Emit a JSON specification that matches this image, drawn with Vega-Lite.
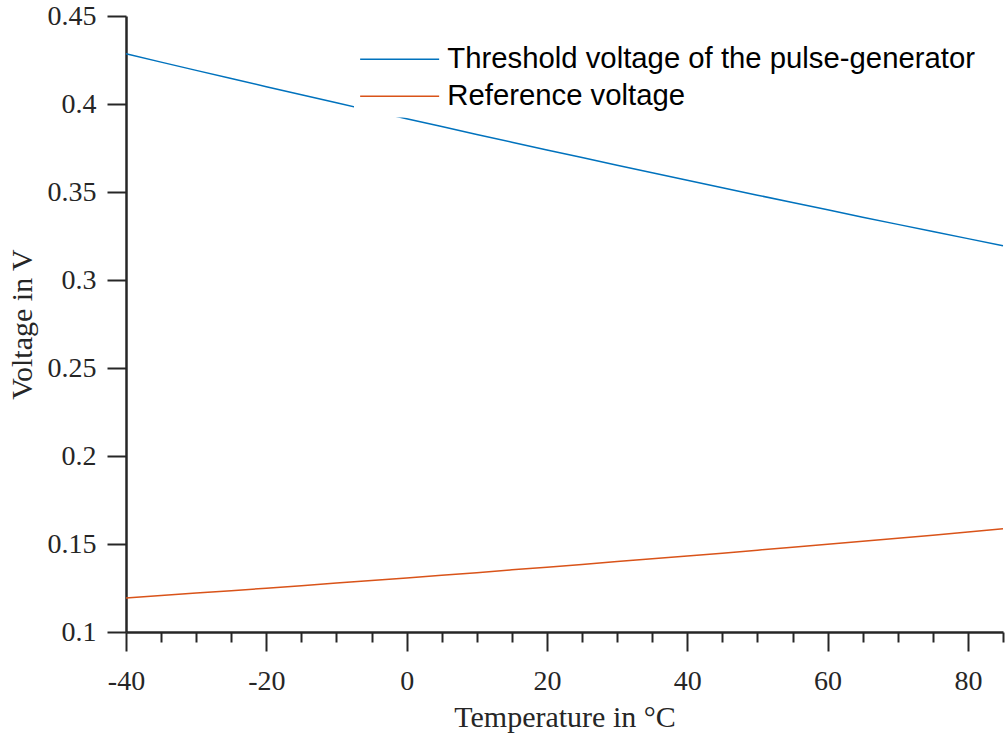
{
  "$schema": "https://vega.github.io/schema/vega-lite/v6.json",
  "width": 877,
  "height": 616,
  "autosize": "none",
  "padding": {"left": 126, "top": 16, "right": 2, "bottom": 101},
  "background": "white",
  "config": {"view": {"stroke": null}},
  "data": {
    "values": [
      {"T": -40, "V": 0.4285, "series": "Threshold voltage of the pulse-generator"},
      {"T": -35, "V": 0.4238, "series": "Threshold voltage of the pulse-generator"},
      {"T": -30, "V": 0.4191, "series": "Threshold voltage of the pulse-generator"},
      {"T": -25, "V": 0.4145, "series": "Threshold voltage of the pulse-generator"},
      {"T": -20, "V": 0.4098, "series": "Threshold voltage of the pulse-generator"},
      {"T": -15, "V": 0.4052, "series": "Threshold voltage of the pulse-generator"},
      {"T": -10, "V": 0.4007, "series": "Threshold voltage of the pulse-generator"},
      {"T": -5, "V": 0.3961, "series": "Threshold voltage of the pulse-generator"},
      {"T": 0, "V": 0.3916, "series": "Threshold voltage of the pulse-generator"},
      {"T": 5, "V": 0.3872, "series": "Threshold voltage of the pulse-generator"},
      {"T": 10, "V": 0.3827, "series": "Threshold voltage of the pulse-generator"},
      {"T": 15, "V": 0.3783, "series": "Threshold voltage of the pulse-generator"},
      {"T": 20, "V": 0.3739, "series": "Threshold voltage of the pulse-generator"},
      {"T": 25, "V": 0.3696, "series": "Threshold voltage of the pulse-generator"},
      {"T": 30, "V": 0.3652, "series": "Threshold voltage of the pulse-generator"},
      {"T": 35, "V": 0.3609, "series": "Threshold voltage of the pulse-generator"},
      {"T": 40, "V": 0.3567, "series": "Threshold voltage of the pulse-generator"},
      {"T": 45, "V": 0.3524, "series": "Threshold voltage of the pulse-generator"},
      {"T": 50, "V": 0.3482, "series": "Threshold voltage of the pulse-generator"},
      {"T": 55, "V": 0.3440, "series": "Threshold voltage of the pulse-generator"},
      {"T": 60, "V": 0.3399, "series": "Threshold voltage of the pulse-generator"},
      {"T": 65, "V": 0.3357, "series": "Threshold voltage of the pulse-generator"},
      {"T": 70, "V": 0.3316, "series": "Threshold voltage of the pulse-generator"},
      {"T": 75, "V": 0.3276, "series": "Threshold voltage of the pulse-generator"},
      {"T": 80, "V": 0.3235, "series": "Threshold voltage of the pulse-generator"},
      {"T": 85, "V": 0.3195, "series": "Threshold voltage of the pulse-generator"},
      {"T": -40, "V": 0.1193, "series": "Reference voltage"},
      {"T": -35, "V": 0.1207, "series": "Reference voltage"},
      {"T": -30, "V": 0.1221, "series": "Reference voltage"},
      {"T": -25, "V": 0.1235, "series": "Reference voltage"},
      {"T": -20, "V": 0.1249, "series": "Reference voltage"},
      {"T": -15, "V": 0.1263, "series": "Reference voltage"},
      {"T": -10, "V": 0.1278, "series": "Reference voltage"},
      {"T": -5, "V": 0.1292, "series": "Reference voltage"},
      {"T": 0, "V": 0.1307, "series": "Reference voltage"},
      {"T": 5, "V": 0.1322, "series": "Reference voltage"},
      {"T": 10, "V": 0.1337, "series": "Reference voltage"},
      {"T": 15, "V": 0.1353, "series": "Reference voltage"},
      {"T": 20, "V": 0.1368, "series": "Reference voltage"},
      {"T": 25, "V": 0.1384, "series": "Reference voltage"},
      {"T": 30, "V": 0.1400, "series": "Reference voltage"},
      {"T": 35, "V": 0.1416, "series": "Reference voltage"},
      {"T": 40, "V": 0.1432, "series": "Reference voltage"},
      {"T": 45, "V": 0.1448, "series": "Reference voltage"},
      {"T": 50, "V": 0.1465, "series": "Reference voltage"},
      {"T": 55, "V": 0.1482, "series": "Reference voltage"},
      {"T": 60, "V": 0.1499, "series": "Reference voltage"},
      {"T": 65, "V": 0.1516, "series": "Reference voltage"},
      {"T": 70, "V": 0.1533, "series": "Reference voltage"},
      {"T": 75, "V": 0.1550, "series": "Reference voltage"},
      {"T": 80, "V": 0.1568, "series": "Reference voltage"},
      {"T": 85, "V": 0.1586, "series": "Reference voltage"}
    ]
  },
  "mark": {"type": "line", "strokeWidth": 1.5},
  "encoding": {
    "x": {
      "field": "T",
      "type": "quantitative",
      "scale": {"domain": [-40, 85], "nice": false, "zero": false},
      "axis": {
        "values": [-40, -35, -30, -25, -20, -15, -10, -5, 0, 5, 10, 15, 20, 25, 30, 35, 40, 45, 50, 55, 60, 65, 70, 75, 80, 85],
        "title": "Temperature in °C",
        "labelExpr": "datum.value % 20 === 0 ? '' + datum.value : ''",
        "tickSize": {"condition": {"test": "datum.value % 20 === 0", "value": 19}, "value": 10},
        "labelFont": "Liberation Serif",
        "labelFontSize": 28,
        "labelColor": "#262626",
        "labelPadding": 16,
        "labelOverlap": false,
        "labelFlush": false,
        "titleFont": "Liberation Serif",
        "titleFontSize": 30,
        "titleFontWeight": "normal",
        "titleColor": "#262626",
        "titlePadding": 7,
        "domainColor": "#262626",
        "domainWidth": 2.5,
        "tickColor": "#262626",
        "tickWidth": 2,
        "grid": false
      }
    },
    "y": {
      "field": "V",
      "type": "quantitative",
      "scale": {"domain": [0.1, 0.45], "nice": false, "zero": false},
      "axis": {
        "values": [0.1, 0.15, 0.2, 0.25, 0.3, 0.35, 0.4, 0.45],
        "format": "~g",
        "title": "Voltage in V",
        "tickSize": 19,
        "labelFont": "Liberation Serif",
        "labelFontSize": 28,
        "labelColor": "#262626",
        "labelPadding": 11,
        "labelOverlap": false,
        "labelFlush": false,
        "titleFont": "Liberation Serif",
        "titleFontSize": 30,
        "titleFontWeight": "normal",
        "titleColor": "#262626",
        "titlePadding": 10,
        "domainColor": "#262626",
        "domainWidth": 2.5,
        "tickColor": "#262626",
        "tickWidth": 2,
        "grid": false
      }
    },
    "color": {
      "field": "series",
      "type": "nominal",
      "scale": {
        "domain": ["Threshold voltage of the pulse-generator", "Reference voltage"],
        "range": ["#0072BD", "#D95319"]
      },
      "legend": {
        "orient": "none",
        "legendX": 228,
        "legendY": 22.5,
        "title": null,
        "symbolType": "M-1.45,0H6.45",
        "symbolSize": 400,
        "symbolStrokeWidth": 1.5,
        "labelFont": "Liberation Sans",
        "labelFontSize": 29.3,
        "labelColor": "black",
        "labelOffset": 58,
        "labelLimit": 0,
        "rowPadding": 7,
        "padding": 6,
        "fillColor": "white"
      }
    }
  }
}
